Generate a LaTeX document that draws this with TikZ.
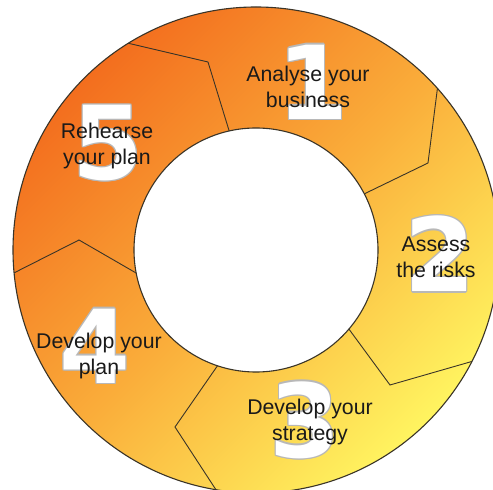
\documentclass[tikz,border=0pt]{standalone}
\usepackage{fontspec}
\setmainfont{Liberation Sans}
\newfontfamily\digitfont{DejaVu Sans}
\definecolor{ringorange}{HTML}{F36E1E}
\definecolor{ringmid}{HTML}{FAAD3A}
\definecolor{ringyellow}{HTML}{FFF460}
\definecolor{ringline}{HTML}{3A3428}
\definecolor{olgray}{HTML}{B8B8B8}
\definecolor{labeltext}{HTML}{1A1A1A}
\tikzset{
  border/.style={draw=ringline, line width=1.1pt},
  divider/.style={draw=ringline, line width=0.9pt, line join=miter},
  digitstyle/.style={inner sep=0pt, font=\digitfont\bfseries\fontsize{102}{102}\selectfont},
  steplabel/.style={inner sep=0pt, align=center, text=labeltext,
    font=\fontsize{21.3}{26}\selectfont},
}
\newcommand\olcopy[3]{\rlap{\kern#1\raisebox{#2}{\textcolor{olgray}{#3}}}}
\newcommand\olglyph[1]{%
  \olcopy{1.3pt}{0pt}{#1}\olcopy{-1.3pt}{0pt}{#1}%
  \olcopy{0pt}{1.3pt}{#1}\olcopy{0pt}{-1.3pt}{#1}%
  \olcopy{0.9pt}{0.9pt}{#1}\olcopy{-0.9pt}{0.9pt}{#1}%
  \olcopy{0.9pt}{-0.9pt}{#1}\olcopy{-0.9pt}{-0.9pt}{#1}%
  \textcolor{white}{#1}}
\begin{document}
\begin{tikzpicture}[x=1pt,y=1pt]
\begin{scope}[shift={(256,240)}]
  \useasboundingbox (-256,-240) rectangle (237,250);
  \fill[white] (-256,-240) rectangle (237,250);
  \clip (-256,-240) rectangle (237,250);
  % ring
  \shade[top color=ringorange, bottom color=ringyellow, middle color=ringmid,
         shading angle=45, even odd rule]
    (0,0) circle (243) (0,0) circle (122);
  % chevron dividers
  \coordinate (o51) at (121.7:243); \coordinate (t51) at (-48,188); \coordinate (i51) at (102.7:122);
  \coordinate (o12) at (41.7:243);  \coordinate (t12) at (172,87);  \coordinate (i12) at (27.4:122);
  \coordinate (o23) at (-27.3:243); \coordinate (t23) at (134,-135); \coordinate (i23) at (-40.4:122);
  \coordinate (o34) at (-99.5:243); \coordinate (t34) at (-81,-177); \coordinate (i34) at (-108.4:122);
  \coordinate (o45) at (185.4:243); \coordinate (t45) at (-177,10); \coordinate (i45) at (190.9:122);
  \draw[divider] (o51) -- (t51) -- (i51);
  \draw[divider] (o12) -- (t12) -- (i12);
  \draw[divider] (o23) -- (t23) -- (i23);
  \draw[divider] (o34) -- (t34) -- (i34);
  \draw[divider] (o45) -- (t45) -- (i45);
  \draw[border] (0,0) circle (243);
  \draw[border] (0,0) circle (122);
  % digits
  \node[digitstyle] (d1) at (57,168) {\olglyph{1}};
  \node[digitstyle] (d2) at (184,-4) {\olglyph{2}};
  \node[digitstyle] (d3) at (49,-170) {\olglyph{3}};
  \node[digitstyle] (d4) at (-161,-96) {\olglyph{4}};
  \node[digitstyle] (d5) at (-148,107) {\olglyph{5}};
  % labels
  \node[steplabel] (l1) at (52,163) {Analyse your\\business};
  \node[steplabel] (l2) at (180,-7) {Assess\\the risks};
  \node[steplabel] (l3) at (54,-172) {Develop your\\strategy};
  \node[steplabel] (l4) at (-157,-106) {Develop your\\plan};
  \node[steplabel] (l5) at (-149,104) {Rehearse\\your plan};
\end{scope}
\end{tikzpicture}
\end{document}
